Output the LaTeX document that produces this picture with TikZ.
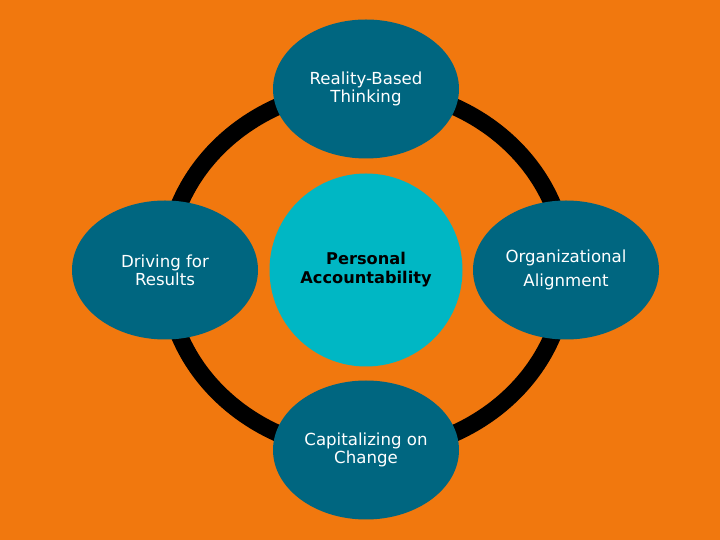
\documentclass[tikz,border=0pt]{standalone}
\usepackage{fontspec}
\setmainfont{DejaVu Sans}
\usepackage{xcolor}
\usepackage{tikz}
\usetikzlibrary{shapes}
\usetikzlibrary{positioning}
\usetikzlibrary{shapes.geometric}
\definecolor{bgorange}{RGB}{241,120,14}
\definecolor{darkteal}{RGB}{0,102,128}
\definecolor{lightteal}{RGB}{0,183,196}
\tikzset{
    outernode/.style = {ellipse, inner sep=0pt, align=center, fill=darkteal, text=white, minimum width=186pt, minimum height=139pt, font=\fontsize{16.6}{18}\selectfont},
    centernode/.style = {circle, inner sep=0pt, align=center, fill=lightteal, text=black, minimum size=193pt, font=\fontsize{16.2}{19}\selectfont\bfseries},
}

\begin{document}
\begin{tikzpicture}[x=1pt, y=1pt]
\tikzset{
    ring/.style = {draw=black, line width=17pt},
}
\fill[bgorange] (0,0) rectangle (720,540);
\useasboundingbox (0,0) rectangle (720,540);
\coordinate (o) at (366,270);
\draw[ring] (o) ellipse [x radius=200, y radius=182];
%
\node[outernode] at (366,451) (rbt) {Reality-Based\\Thinking};
\node[outernode] at (165,270) (dfr) {Driving for\\Results};
\node[outernode, font=\fontsize{16.6}{24}\selectfont] at (566,270) (oa) {Organizational\\Alignment};
\node[outernode] at (366,90) (coc) {Capitalizing on\\Change};
\node[centernode] at (366,270) (pa) {Personal\\Accountability};
\end{tikzpicture}
\end{document}
